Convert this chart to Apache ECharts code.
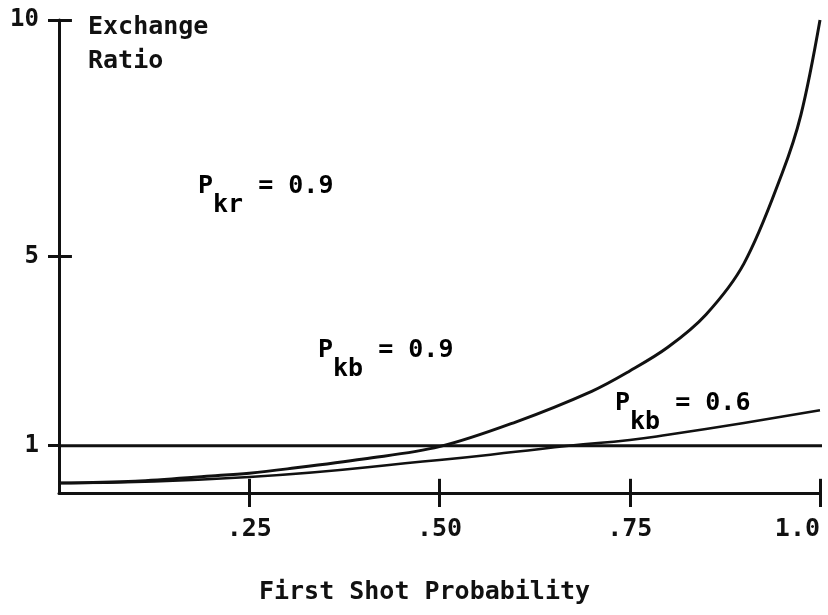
<!DOCTYPE html>
<html lang="en">
<head>
    <meta charset="UTF-8">
    <title>Exchange Ratio</title>
    <script src="https://cdn.jsdelivr.net/npm/echarts@6/dist/echarts.min.js"></script>
    <style>
        html, body { margin: 0; padding: 0; background: #fff; }
    </style>
</head>
<body>
<div id="main" style="width:828px;height:615px;"></div>
<script type="text/javascript">
    // values
    var shotProb = [0, 0.1, 0.2, 0.25, 0.3, 0.4, 0.5, 0.6, 0.7, 0.75, 0.8, 0.85, 0.9, 0.95, 0.975, 1.0];
    var ratioKb09 = [0.21, 0.25, 0.36, 0.42, 0.51, 0.72, 0.98, 1.50, 2.15, 2.58, 3.08, 3.77, 4.85, 6.75, 8.00, 10.0];
    var shotProb2 = [0, 0.25, 0.5, 0.6, 0.67, 0.75, 0.8, 0.9, 1.0];
    var ratioKb06 = [0.21, 0.34, 0.70, 0.87, 1.0, 1.12, 1.23, 1.48, 1.75];
    var xTicks = [0.25, 0.5, 0.75, 1.0];
    var xTickLabels = ['.25', '.50', '.75', '1.0'];
    var yTicks = [1, 5, 10];
    var yInnerTicks = [5, 10];
    // annotation text: [P, subscript, rest, left, top]
    var notes = [
        ['P', 'kr', ' = 0.9', 198, 174],
        ['P', 'kb', ' = 0.9', 318, 338],
        ['P', 'kb', ' = 0.6', 615, 391]
    ];

    var FONT = '"DejaVu Sans Mono", monospace';
    var INK = '#111';
    var WEIGHT = 'bold';

    function pairs(xs, ys) {
        return xs.map(function (x, i) { return [x, ys[i]]; });
    }

    // the ticks cross the axes: the inner halves go in as short mark lines
    var innerTicks = xTicks.map(function (v) {
        return [{ coord: [v, 0] }, { coord: [v, 0.3] }];
    }).concat(yInnerTicks.map(function (v) {
        return [{ coord: [0, v] }, { coord: [0.017, v] }];
    }));

    var myChart = echarts.init(document.getElementById('main'));

    var option = {
        animation: false,
        backgroundColor: '#fff',
        grid: { left: 59, right: 8, top: 20, bottom: 122 },
        xAxis: {
            type: 'value',
            min: 0, max: 1, interval: 0.25,
            name: 'First Shot Probability',
            nameLocation: 'middle',
            nameGap: 87,
            nameTextStyle: { color: INK, fontFamily: FONT, fontWeight: WEIGHT, fontSize: 25, padding: [0, 30, 0, 0] },
            axisLine: { lineStyle: { color: INK, width: 3 } },
            axisTick: { customValues: xTicks, length: 14, lineStyle: { color: INK, width: 3 } },
            axisLabel: {
                customValues: xTicks,
                color: INK, fontFamily: FONT, fontWeight: WEIGHT, fontSize: 25, margin: 24,
                alignMaxLabel: 'right',
                formatter: function (v) {
                    var i = xTicks.indexOf(v);
                    return i >= 0 ? xTickLabels[i] : '';
                }
            },
            splitLine: { show: false }
        },
        yAxis: {
            type: 'value',
            min: 0, max: 10, interval: 1,
            name: 'Exchange\nRatio',
            nameLocation: 'end',
            nameGap: 10,
            nameTextStyle: {
                color: INK, fontFamily: FONT, fontWeight: WEIGHT, fontSize: 25, lineHeight: 34,
                align: 'left', verticalAlign: 'top', padding: [0, 0, 0, 29]
            },
            axisLine: { lineStyle: { color: INK, width: 3 } },
            axisTick: { customValues: yTicks, length: 11, lineStyle: { color: INK, width: 3 } },
            axisLabel: { customValues: yTicks, color: INK, fontFamily: FONT, fontWeight: WEIGHT, fontSize: 24, margin: 20 },
            splitLine: { show: false }
        },
        graphic: notes.map(function (n) {
            var base = { fontFamily: FONT, fontWeight: WEIGHT, fontSize: 25, lineHeight: 28, color: INK, verticalAlign: 'top' };
            return {
                type: 'text',
                left: n[3],
                top: n[4],
                style: {
                    text: '{p|' + n[0] + '}{s|' + n[1] + '}{m|' + n[2] + '}',
                    rich: {
                        p: base,
                        s: Object.assign({}, base, { padding: [19, 0, 0, 0] }),
                        m: base
                    }
                }
            };
        }),
        series: [{
            name: 'Exchange = 1',
            type: 'line',
            clip: false,
            showSymbol: false,
            data: [[0, 1], [1.008, 1]],
            lineStyle: { color: INK, width: 3 },
            markLine: {
                silent: true,
                symbol: 'none',
                label: { show: false },
                lineStyle: { color: INK, width: 3, type: 'solid' },
                data: innerTicks
            }
        }, {
            name: 'Pkb = 0.9',
            type: 'line',
            smooth: 0.35,
            showSymbol: false,
            clip: false,
            data: pairs(shotProb, ratioKb09),
            lineStyle: { color: INK, width: 3 }
        }, {
            name: 'Pkb = 0.6',
            type: 'line',
            smooth: true,
            showSymbol: false,
            data: pairs(shotProb2, ratioKb06),
            lineStyle: { color: INK, width: 2.5 }
        }]
    };

    myChart.setOption(option);
</script>
</body>
</html>
